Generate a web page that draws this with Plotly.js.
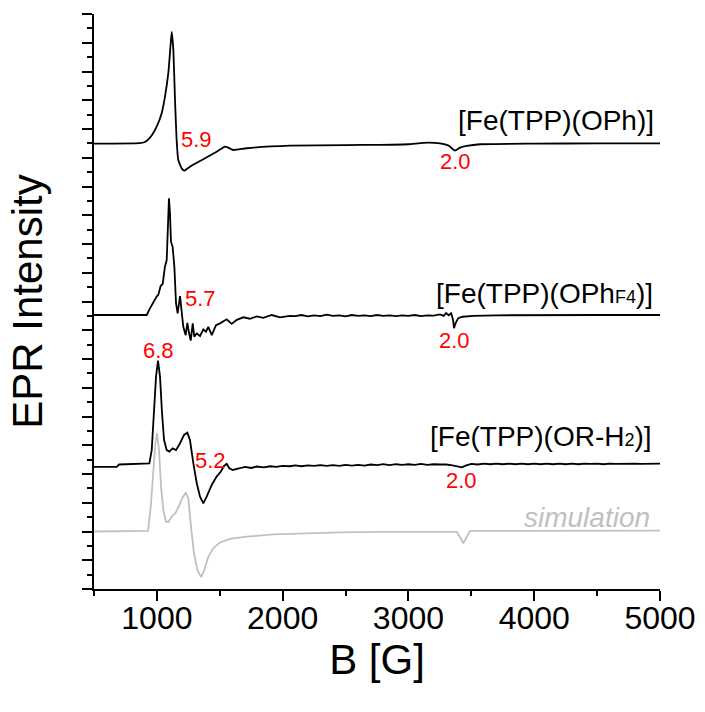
<!DOCTYPE html>
<html>
<head>
<meta charset="utf-8">
<script src="https://cdn.plot.ly/plotly-3.0.1.min.js"></script>
<style>html,body{margin:0;padding:0;background:#fff;}#chart{width:705px;height:712px;}</style>
</head>
<body>
<div id="chart"></div>
<script>
// ---- Data (field B in gauss, intensity in stacked arbitrary units) ----
const ophB = [500, 860, 900, 932, 965, 998, 1038, 1064, 1091, 1110, 1118, 1131, 1144, 1157, 1170, 1197, 1218, 1263, 1369, 1475, 1541, 1568, 1607, 1714, 2058, 2500, 2774, 3000, 3118, 3251, 3320, 3370, 3410, 3463, 3569, 4000, 4500, 5000];
const ophI = [15.49, 15.51, 15.54, 15.64, 15.82, 16.08, 16.55, 17.12, 17.95, 18.98, 19.38, 18.75, 17.0, 15.62, 14.92, 14.63, 14.55, 14.69, 14.95, 15.21, 15.39, 15.35, 15.27, 15.33, 15.42, 15.44, 15.45, 15.47, 15.52, 15.50, 15.42, 15.25, 15.35, 15.41, 15.47, 15.49, 15.50, 15.50];

const ophF4B = [500, 919, 945, 972, 998, 1011, 1030, 1046, 1064, 1078, 1086, 1096, 1104, 1112, 1125, 1139, 1152, 1165, 1184, 1194, 1210, 1229, 1242, 1255, 1269, 1285, 1297, 1317, 1343, 1369, 1390, 1409, 1436, 1470, 1502, 1555, 1595, 1635, 1687, 1740, 1793, 1846, 1913, 1979, 2058, 2100, 2150, 2200, 2250, 2300, 2350, 2400, 2450, 2500, 2550, 2600, 2650, 2700, 2750, 2800, 2850, 2900, 2950, 3000, 3050, 3100, 3150, 3200, 3250, 3280, 3300, 3320, 3340, 3355, 3362, 3375, 3396, 3430, 3516, 3700, 4000, 4500, 5000];
const ophF4I = [9.53, 9.53, 9.76, 9.99, 10.17, 10.23, 10.54, 10.61, 11.21, 11.44, 12.26, 13.59, 13.07, 12.08, 11.91, 11.21, 9.94, 9.59, 10.19, 9.70, 9.12, 8.83, 9.26, 8.92, 8.64, 9.24, 8.78, 8.89, 8.80, 9.03, 8.95, 9.12, 8.83, 9.18, 9.24, 9.38, 9.22, 9.36, 9.45, 9.40, 9.48, 9.43, 9.53, 9.45, 9.50, 9.49, 9.53, 9.48, 9.52, 9.49, 9.54, 9.50, 9.52, 9.48, 9.53, 9.50, 9.52, 9.49, 9.53, 9.50, 9.52, 9.49, 9.52, 9.50, 9.53, 9.49, 9.52, 9.51, 9.55, 9.50, 9.60, 9.52, 9.59, 9.35, 9.07, 9.25, 9.42, 9.47, 9.50, 9.52, 9.53, 9.53, 9.53];

const orH2B = [500, 680, 700, 930, 940, 959, 977, 993, 1009, 1025, 1041, 1057, 1078, 1099, 1125, 1152, 1184, 1216, 1242, 1263, 1290, 1317, 1343, 1369, 1396, 1436, 1475, 1507, 1534, 1555, 1576, 1603, 1661, 1700, 1750, 1793, 1850, 1900, 1950, 2000, 2058, 2100, 2150, 2200, 2250, 2300, 2350, 2400, 2450, 2500, 2550, 2600, 2650, 2700, 2750, 2800, 2850, 2900, 2950, 3000, 3050, 3100, 3150, 3200, 3250, 3300, 3350, 3390, 3423, 3460, 3500, 3550, 3600, 3650, 3700, 3750, 3800, 3850, 3900, 3950, 4000, 4050, 4100, 4150, 4200, 4250, 4300, 4350, 4400, 4450, 4500, 4550, 4600, 4650, 4700, 4750, 4800, 4850, 4900, 4950, 5000];
const orH2I = [4.25, 4.25, 4.33, 4.35, 4.37, 4.83, 6.11, 7.38, 7.94, 7.38, 6.11, 5.18, 4.83, 4.78, 4.89, 4.83, 5.07, 5.36, 5.44, 5.18, 4.37, 3.68, 3.21, 2.98, 3.21, 3.62, 3.91, 4.08, 4.28, 4.35, 4.20, 4.14, 4.20, 4.25, 4.21, 4.26, 4.23, 4.27, 4.25, 4.28, 4.27, 4.30, 4.27, 4.30, 4.28, 4.31, 4.28, 4.31, 4.28, 4.32, 4.29, 4.32, 4.29, 4.33, 4.31, 4.34, 4.31, 4.34, 4.32, 4.34, 4.32, 4.35, 4.32, 4.34, 4.33, 4.33, 4.30, 4.27, 4.23, 4.30, 4.35, 4.33, 4.36, 4.34, 4.36, 4.34, 4.36, 4.34, 4.36, 4.34, 4.36, 4.34, 4.36, 4.34, 4.36, 4.34, 4.36, 4.34, 4.36, 4.35, 4.36, 4.34, 4.36, 4.35, 4.36, 4.35, 4.36, 4.35, 4.36, 4.35, 4.36];

const simB = [500, 930, 951, 972, 988, 1001, 1017, 1033, 1051, 1072, 1094, 1120, 1146, 1173, 1200, 1229, 1250, 1271, 1295, 1322, 1351, 1377, 1409, 1449, 1502, 1581, 1714, 1926, 2191, 2456, 2800, 3200, 3384, 3410, 3436, 3462, 3489, 3700, 4200, 5000];
const simI = [2.0, 2.02, 2.86, 4.02, 5.07, 5.42, 4.83, 3.56, 2.75, 2.34, 2.34, 2.54, 2.63, 2.86, 3.15, 3.35, 3.15, 2.17, 1.24, 0.66, 0.41, 0.66, 1.12, 1.42, 1.62, 1.74, 1.82, 1.90, 1.94, 1.97, 1.99, 2.0, 1.99, 1.80, 1.59, 1.80, 2.02, 2.02, 2.02, 2.03];

const compoundLabels = ["[Fe(TPP)(OPh)]", "[Fe(TPP)(OPh<span style=\"font-size:18px\">F4</span>)]", "[Fe(TPP)(OR-H<span style=\"font-size:18px\">2</span>)]", "simulation"];
const compoundLabelB = [4968, 4962, 4950, 4936];
const compoundLabelI = [16.31, 10.29, 5.30, 2.49];

const gLabels = ["5.9", "2.0", "5.7", "2.0", "6.8", "5.2", "2.0"];
const gLabelB = [1316, 3378, 1343, 3370, 1011, 1428, 3423];
const gLabelI = [15.64, 14.86, 10.11, 8.66, 8.28, 4.46, 3.79];

// ---- Plot ----
const FONT = "Liberation Sans, Arial, Helvetica, sans-serif";
const traces = [
  {x: simB, y: simI, mode: "lines", line: {color: "#c0c0c0", width: 1.8}},
  {x: orH2B, y: orH2I, mode: "lines", line: {color: "#000", width: 1.8}},
  {x: ophF4B, y: ophF4I, mode: "lines", line: {color: "#000", width: 1.8}},
  {x: ophB, y: ophI, mode: "lines", line: {color: "#000", width: 1.8, shape: "spline", smoothing: 0.4}}
];

const annotations = [];
compoundLabels.forEach((t, i) => {
  const isSim = t === "simulation";
  annotations.push({
    x: compoundLabelB[i], y: compoundLabelI[i], xref: "x", yref: "y",
    text: isSim ? "<i>" + t + "</i>" : t, showarrow: false, xanchor: "right", yanchor: "middle",
    font: {family: FONT, size: 28, color: isSim ? "#c0c0c0" : "#000"}
  });
});
gLabels.forEach((t, i) => {
  annotations.push({
    x: gLabelB[i], y: gLabelI[i], xref: "x", yref: "y", text: t, showarrow: false,
    xanchor: "center", yanchor: "middle",
    font: {family: FONT, size: 22, color: "#ff0000"}
  });
});

const layout = {
  width: 705, height: 712,
  margin: {l: 94, r: 45, t: 14, b: 123, pad: 0},
  paper_bgcolor: "#fff", plot_bgcolor: "#fff",
  showlegend: false,
  font: {family: FONT, color: "#000"},
  xaxis: {
    range: [500, 5000], tick0: 0, dtick: 1000, ticks: "outside", ticklen: 10, tickwidth: 2, tickcolor: "#000",
    showline: true, linewidth: 2, linecolor: "#000", showgrid: false, zeroline: false,
    tickfont: {family: FONT, size: 32, color: "#000"}, ticklabelstandoff: -10,
    minor: {dtick: 500, tick0: 0, ticks: "outside", ticklen: 5, tickwidth: 2, tickcolor: "#000", showgrid: false},
    title: {text: "B [G]", font: {family: FONT, size: 42, color: "#000"}, standoff: 4}
  },
  yaxis: {
    range: [0, 20], tick0: 0, dtick: 1, ticks: "outside", ticklen: 10, tickwidth: 2, tickcolor: "#000",
    showline: true, linewidth: 2, linecolor: "#000", showgrid: false, zeroline: false, showticklabels: false,
    minor: {dtick: 0.5, tick0: 0, ticks: "outside", ticklen: 5, tickwidth: 2, tickcolor: "#000", showgrid: false},
    title: {text: "EPR Intensity", font: {family: FONT, size: 42, color: "#000"}, standoff: 26}
  },
  annotations: annotations
};

Plotly.newPlot("chart", traces, layout, {displayModeBar: false, staticPlot: true});
</script>
</body>
</html>
